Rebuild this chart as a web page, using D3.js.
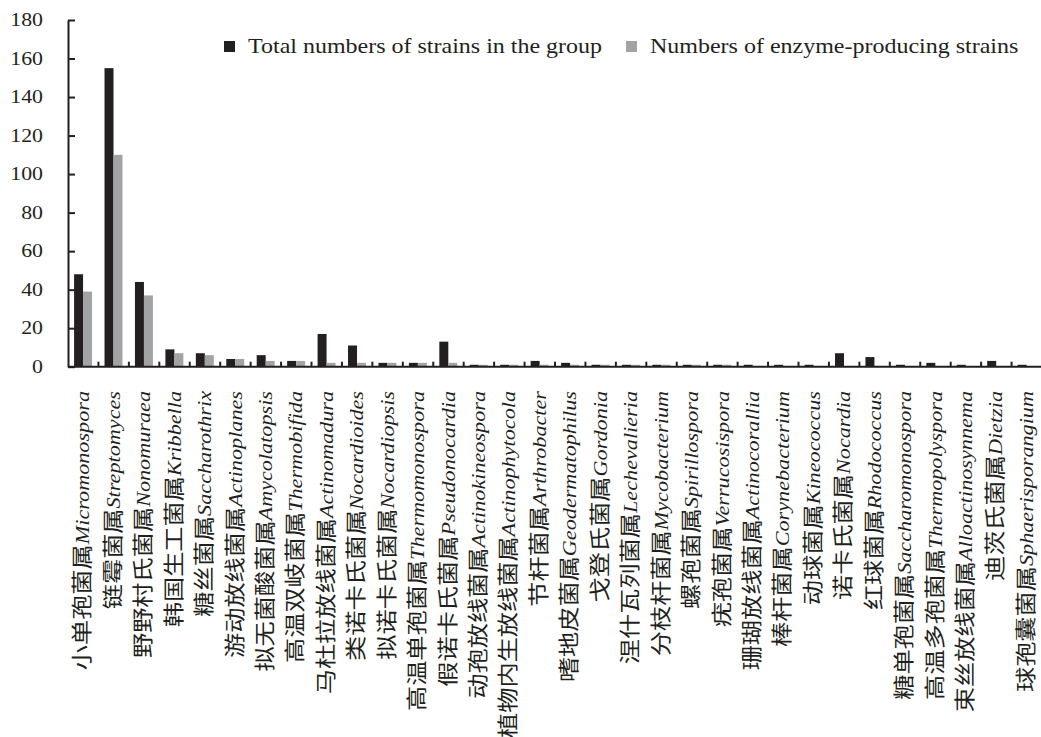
<!DOCTYPE html>
<html>
<head>
<meta charset="utf-8">
<script src="https://cdn.jsdelivr.net/npm/d3@7"></script>
<style>
  html, body { margin: 0; padding: 0; background: #fff; }
  svg { display: block; }
</style>
</head>
<body>
<svg id="chart" width="1041" height="737"></svg>
<script>
// ---------- DATA ----------
const cnNames = ["小单孢菌属","链霉菌属","野野村氏菌属","韩国生工菌属","糖丝菌属","游动放线菌属","拟无菌酸菌属","高温双岐菌属","马杜拉放线菌属","类诺卡氏菌属","拟诺卡氏菌属","高温单孢菌属","假诺卡氏菌属","动孢放线菌属","植物内生放线菌属","节杆菌属","嗜地皮菌属","戈登氏菌属","涅什瓦列菌属","分枝杆菌属","螺孢菌属","疣孢菌属","珊瑚放线菌属","棒杆菌属","动球菌属","诺卡氏菌属","红球菌属","糖单孢菌属","高温多孢菌属","束丝放线菌属","迪茨氏菌属","球孢囊菌属"];
const latinNames = ["Micromonospora","Streptomyces","Nonomuraea","Kribbella","Saccharothrix","Actinoplanes","Amycolatopsis","Thermobifida","Actinomadura","Nocardioides","Nocardiopsis","Thermomonospora","Pseudonocardia","Actinokineospora","Actinophytocola","Arthrobacter","Geodermatophilus","Gordonia","Lechevalieria","Mycobacterium","Spirillospora","Verrucosispora","Actinocorallia","Corynebacterium","Kineococcus","Nocardia","Rhodococcus","Saccharomonospora","Thermopolyspora","Alloactinosynnema","Dietzia","Sphaerisporangium"];
const totalStrains = [48,155,44,9,7,4,6,3,17,11,2,2,13,1,1,3,2,1,1,1,1,1,1,1,1,7,5,1,2,1,3,1];
const enzymeStrains = [39,110,37,7,6,4,3,3,2,2,2,2,2,1,1,1,1,1,1,1,1,1,0,0,0,0,0,0,0,0,0,0];
const seriesNames = ["Total numbers of strains in the group","Numbers of enzyme-producing strains"];
const yTicks = [0,20,40,60,80,100,120,140,160,180];

// ---------- LAYOUT ----------
const svg = d3.select("#chart");
const ink = "#231f20";
const colors = ["#231f20", "#a2a3a5"];
const serif = "'Liberation Serif','Times New Roman',serif";
const cjk = "'Noto Sans CJK SC','Noto Sans CJK JP',sans-serif";
const mLeft = 68, mRight = 1042, mTop = 20, mBottom = 366.7;

const cats = d3.range(cnNames.length);
const x = d3.scaleBand().domain(cats).range([mLeft, mRight]).padding(0);
const bw = x.bandwidth();
const x1 = d3.scaleBand().domain([0,1]).range([bw*0.2, bw*0.79]).padding(0);
const y = d3.scaleLinear().domain([0,180]).range([mBottom, mTop]);

// bars
const series = [totalStrains, enzymeStrains];
series.forEach((vals, si) => {
  svg.append("g").selectAll("rect").data(cats).join("rect")
    .attr("x", d => x(d) + x1(si))
    .attr("width", x1.bandwidth())
    .attr("y", d => y(vals[d]))
    .attr("height", d => y(0) - y(vals[d]))
    .attr("fill", colors[si]);
});

// y axis
const yAxis = d3.axisLeft(y).tickValues(yTicks).tickSizeInner(-7).tickSizeOuter(0).tickPadding(25);
const gy = svg.append("g").attr("transform", `translate(${mLeft},0)`).call(yAxis);
gy.select(".domain").attr("stroke", ink).attr("stroke-width", 2);
gy.selectAll(".tick line").attr("stroke", ink).attr("stroke-width", 2);
gy.selectAll(".tick text")
  .attr("x", 0)
  .attr("dy", "0.3em")
  .attr("transform", "translate(-25,0) scale(1.15,1)")
  .attr("fill", ink)
  .style("font-family", serif)
  .style("font-size", "19px");

// x axis line
svg.append("line").attr("x1", mLeft).attr("x2", mRight).attr("y1", y(0)).attr("y2", y(0))
  .attr("stroke", ink).attr("stroke-width", 2);
// boundary ticks
svg.append("g").selectAll("line").data(cats.slice(1)).join("line")
  .attr("x1", d => x(d)).attr("x2", d => x(d))
  .attr("y1", y(0)).attr("y2", y(0) - 5)
  .attr("stroke", ink).attr("stroke-width", 2);

// category labels (rotated)
const labY = 391;
const lab = svg.append("g").selectAll("text").data(cats).join("text")
  .attr("transform", d => `translate(${x(d) + bw/2},${labY}) rotate(-90) scale(1.2,1)`)
  .attr("text-anchor", "end")
  .attr("dy", "0.33em")
  .attr("fill", ink)
  .style("font-family", serif)
  .style("font-size", "18.5px");
lab.append("tspan").style("font-family", cjk).style("font-size", "21px").text(d => cnNames[d]);
lab.append("tspan").style("font-style", "italic").text(d => latinNames[d]);

// legend
const legendItems = [
  {sq: 224, tx: 248},
  {sq: 626, tx: 650}
];
legendItems.forEach((it, i) => {
  svg.append("rect").attr("x", it.sq).attr("y", 41).attr("width", 11).attr("height", 11).attr("fill", colors[i]);
  svg.append("text")
    .attr("transform", `translate(${it.tx},53) scale(1.2,1)`)
    .attr("fill", ink)
    .style("font-family", serif)
    .style("font-size", "20px")
    .text(seriesNames[i]);
});
</script>
</body>
</html>
